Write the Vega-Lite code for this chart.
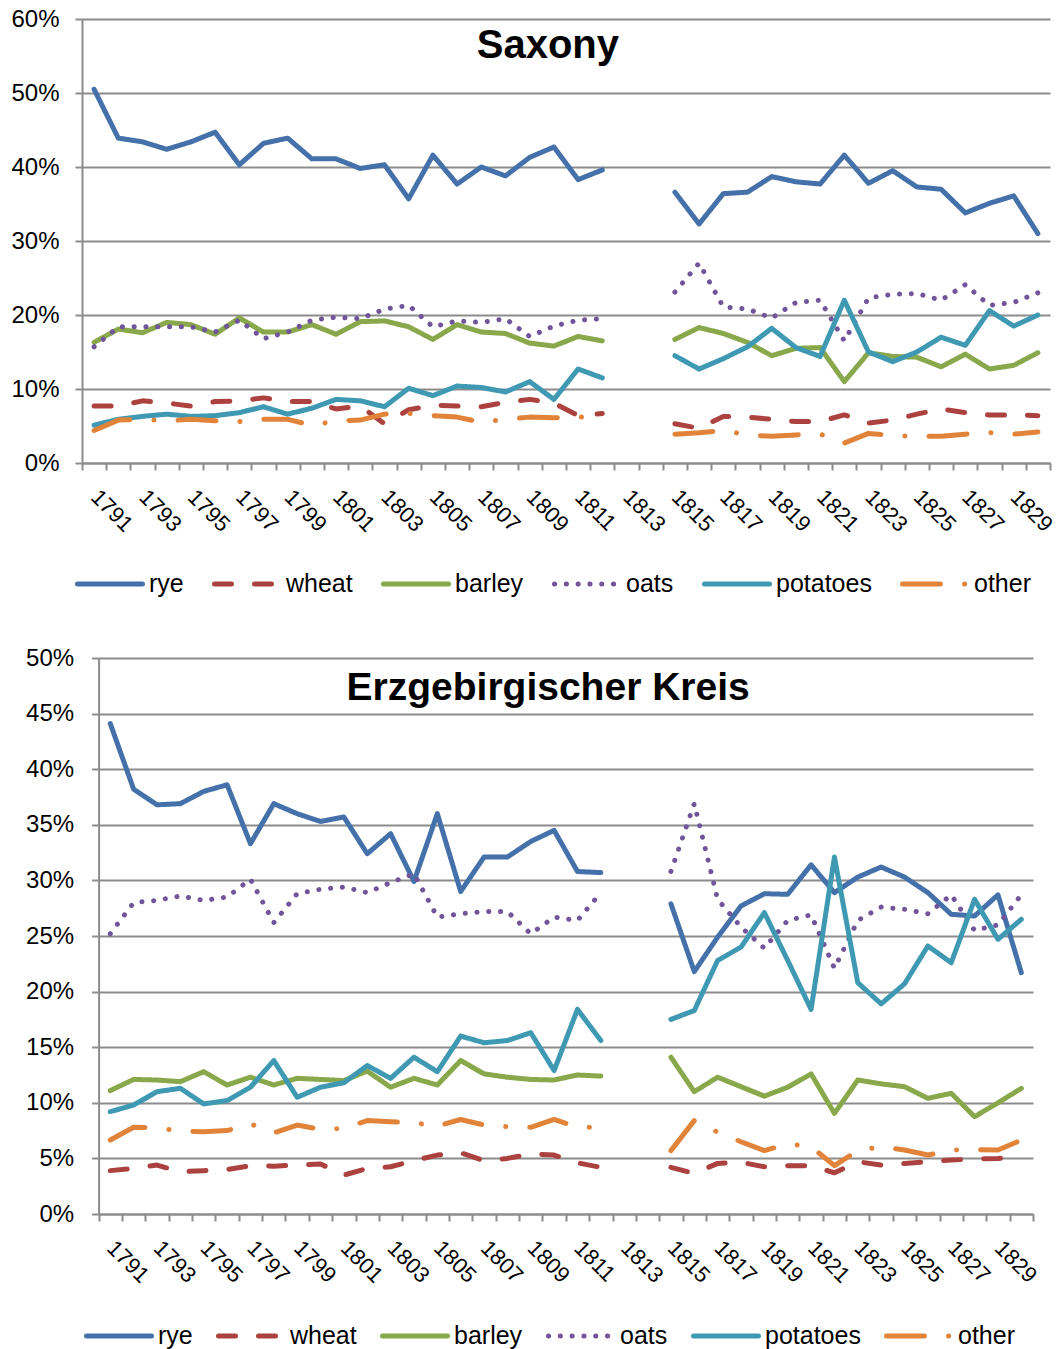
{
"$schema": "https://vega.github.io/schema/vega-lite/v6.json",
"padding": {"left": 10, "top": 7, "right": 5, "bottom": 5},
"spacing": 49,
"resolve": {"scale": {"color": "independent", "strokeDash": "independent"}, "legend": {"color": "independent", "strokeDash": "independent"}},
"config": {
  "font": "Liberation Sans",
  "view": {"stroke": null},
  "axis": {"domainColor": "#8c8c8c", "domainWidth": 2, "tickColor": "#8c8c8c", "tickWidth": 2, "gridColor": "#8c8c8c", "gridWidth": 2, "labelColor": "#000", "labelFont": "Liberation Sans"},
  "legend": {"labelFont": "Liberation Sans"}
},
"datasets": {
"saxony": [
{"year":1791,"crop":"rye","value":50.5},{"year":1792,"crop":"rye","value":43.9},{"year":1793,"crop":"rye","value":43.4},{"year":1794,"crop":"rye","value":42.4},{"year":1795,"crop":"rye","value":43.4},{"year":1796,"crop":"rye","value":44.7},{"year":1797,"crop":"rye","value":40.3},{"year":1798,"crop":"rye","value":43.2},{"year":1799,"crop":"rye","value":43.9},{"year":1800,"crop":"rye","value":41.1},{"year":1801,"crop":"rye","value":41.1},{"year":1802,"crop":"rye","value":39.8},{"year":1803,"crop":"rye","value":40.3},{"year":1804,"crop":"rye","value":35.7},{"year":1805,"crop":"rye","value":41.6},{"year":1806,"crop":"rye","value":37.7},{"year":1807,"crop":"rye","value":40.0},{"year":1808,"crop":"rye","value":38.8},{"year":1809,"crop":"rye","value":41.3},{"year":1810,"crop":"rye","value":42.7},{"year":1811,"crop":"rye","value":38.3},{"year":1812,"crop":"rye","value":39.6},{"year":1813,"crop":"rye","value":null},{"year":1814,"crop":"rye","value":null},{"year":1815,"crop":"rye","value":36.6},{"year":1816,"crop":"rye","value":32.3},{"year":1817,"crop":"rye","value":36.4},{"year":1818,"crop":"rye","value":36.6},{"year":1819,"crop":"rye","value":38.7},{"year":1820,"crop":"rye","value":38.0},{"year":1821,"crop":"rye","value":37.7},{"year":1822,"crop":"rye","value":41.6},{"year":1823,"crop":"rye","value":37.8},{"year":1824,"crop":"rye","value":39.5},{"year":1825,"crop":"rye","value":37.3},{"year":1826,"crop":"rye","value":37.0},{"year":1827,"crop":"rye","value":33.8},{"year":1828,"crop":"rye","value":35.1},{"year":1829,"crop":"rye","value":36.1},{"year":1830,"crop":"rye","value":31.0},
{"year":1791,"crop":"wheat","value":7.7},{"year":1792,"crop":"wheat","value":7.7},{"year":1793,"crop":"wheat","value":8.4},{"year":1794,"crop":"wheat","value":8.1},{"year":1795,"crop":"wheat","value":7.7},{"year":1796,"crop":"wheat","value":8.3},{"year":1797,"crop":"wheat","value":8.4},{"year":1798,"crop":"wheat","value":8.8},{"year":1799,"crop":"wheat","value":8.3},{"year":1800,"crop":"wheat","value":8.3},{"year":1801,"crop":"wheat","value":7.3},{"year":1802,"crop":"wheat","value":7.7},{"year":1803,"crop":"wheat","value":5.3},{"year":1804,"crop":"wheat","value":7.2},{"year":1805,"crop":"wheat","value":7.8},{"year":1806,"crop":"wheat","value":7.7},{"year":1807,"crop":"wheat","value":7.6},{"year":1808,"crop":"wheat","value":8.2},{"year":1809,"crop":"wheat","value":8.6},{"year":1810,"crop":"wheat","value":8.1},{"year":1811,"crop":"wheat","value":6.4},{"year":1812,"crop":"wheat","value":6.7},{"year":1813,"crop":"wheat","value":null},{"year":1814,"crop":"wheat","value":null},{"year":1815,"crop":"wheat","value":5.3},{"year":1816,"crop":"wheat","value":4.7},{"year":1817,"crop":"wheat","value":6.3},{"year":1818,"crop":"wheat","value":6.2},{"year":1819,"crop":"wheat","value":5.9},{"year":1820,"crop":"wheat","value":5.6},{"year":1821,"crop":"wheat","value":5.6},{"year":1822,"crop":"wheat","value":6.5},{"year":1823,"crop":"wheat","value":5.4},{"year":1824,"crop":"wheat","value":5.8},{"year":1825,"crop":"wheat","value":6.6},{"year":1826,"crop":"wheat","value":7.3},{"year":1827,"crop":"wheat","value":6.8},{"year":1828,"crop":"wheat","value":6.5},{"year":1829,"crop":"wheat","value":6.5},{"year":1830,"crop":"wheat","value":6.4},
{"year":1791,"crop":"barley","value":16.3},{"year":1792,"crop":"barley","value":18.1},{"year":1793,"crop":"barley","value":17.6},{"year":1794,"crop":"barley","value":19.0},{"year":1795,"crop":"barley","value":18.7},{"year":1796,"crop":"barley","value":17.4},{"year":1797,"crop":"barley","value":19.6},{"year":1798,"crop":"barley","value":17.7},{"year":1799,"crop":"barley","value":17.7},{"year":1800,"crop":"barley","value":18.7},{"year":1801,"crop":"barley","value":17.4},{"year":1802,"crop":"barley","value":19.1},{"year":1803,"crop":"barley","value":19.2},{"year":1804,"crop":"barley","value":18.4},{"year":1805,"crop":"barley","value":16.7},{"year":1806,"crop":"barley","value":18.7},{"year":1807,"crop":"barley","value":17.7},{"year":1808,"crop":"barley","value":17.5},{"year":1809,"crop":"barley","value":16.2},{"year":1810,"crop":"barley","value":15.8},{"year":1811,"crop":"barley","value":17.1},{"year":1812,"crop":"barley","value":16.5},{"year":1813,"crop":"barley","value":null},{"year":1814,"crop":"barley","value":null},{"year":1815,"crop":"barley","value":16.7},{"year":1816,"crop":"barley","value":18.3},{"year":1817,"crop":"barley","value":17.5},{"year":1818,"crop":"barley","value":16.3},{"year":1819,"crop":"barley","value":14.5},{"year":1820,"crop":"barley","value":15.5},{"year":1821,"crop":"barley","value":15.6},{"year":1822,"crop":"barley","value":11.0},{"year":1823,"crop":"barley","value":14.9},{"year":1824,"crop":"barley","value":14.4},{"year":1825,"crop":"barley","value":14.3},{"year":1826,"crop":"barley","value":13.0},{"year":1827,"crop":"barley","value":14.7},{"year":1828,"crop":"barley","value":12.7},{"year":1829,"crop":"barley","value":13.2},{"year":1830,"crop":"barley","value":14.9},
{"year":1791,"crop":"oats","value":15.7},{"year":1792,"crop":"oats","value":18.4},{"year":1793,"crop":"oats","value":18.4},{"year":1794,"crop":"oats","value":18.4},{"year":1795,"crop":"oats","value":18.4},{"year":1796,"crop":"oats","value":17.7},{"year":1797,"crop":"oats","value":19.3},{"year":1798,"crop":"oats","value":16.8},{"year":1799,"crop":"oats","value":17.7},{"year":1800,"crop":"oats","value":19.3},{"year":1801,"crop":"oats","value":19.7},{"year":1802,"crop":"oats","value":19.5},{"year":1803,"crop":"oats","value":20.8},{"year":1804,"crop":"oats","value":21.3},{"year":1805,"crop":"oats","value":18.4},{"year":1806,"crop":"oats","value":19.2},{"year":1807,"crop":"oats","value":19.0},{"year":1808,"crop":"oats","value":19.5},{"year":1809,"crop":"oats","value":17.1},{"year":1810,"crop":"oats","value":18.5},{"year":1811,"crop":"oats","value":19.3},{"year":1812,"crop":"oats","value":19.5},{"year":1813,"crop":"oats","value":null},{"year":1814,"crop":"oats","value":null},{"year":1815,"crop":"oats","value":23.1},{"year":1816,"crop":"oats","value":27.0},{"year":1817,"crop":"oats","value":21.1},{"year":1818,"crop":"oats","value":20.8},{"year":1819,"crop":"oats","value":19.6},{"year":1820,"crop":"oats","value":21.7},{"year":1821,"crop":"oats","value":22.0},{"year":1822,"crop":"oats","value":16.5},{"year":1823,"crop":"oats","value":22.3},{"year":1824,"crop":"oats","value":22.8},{"year":1825,"crop":"oats","value":22.9},{"year":1826,"crop":"oats","value":22.0},{"year":1827,"crop":"oats","value":24.1},{"year":1828,"crop":"oats","value":21.3},{"year":1829,"crop":"oats","value":21.7},{"year":1830,"crop":"oats","value":23.0},
{"year":1791,"crop":"potatoes","value":5.1},{"year":1792,"crop":"potatoes","value":5.9},{"year":1793,"crop":"potatoes","value":6.3},{"year":1794,"crop":"potatoes","value":6.6},{"year":1795,"crop":"potatoes","value":6.3},{"year":1796,"crop":"potatoes","value":6.4},{"year":1797,"crop":"potatoes","value":6.8},{"year":1798,"crop":"potatoes","value":7.6},{"year":1799,"crop":"potatoes","value":6.6},{"year":1800,"crop":"potatoes","value":7.4},{"year":1801,"crop":"potatoes","value":8.6},{"year":1802,"crop":"potatoes","value":8.4},{"year":1803,"crop":"potatoes","value":7.6},{"year":1804,"crop":"potatoes","value":10.1},{"year":1805,"crop":"potatoes","value":9.1},{"year":1806,"crop":"potatoes","value":10.4},{"year":1807,"crop":"potatoes","value":10.2},{"year":1808,"crop":"potatoes","value":9.6},{"year":1809,"crop":"potatoes","value":11.0},{"year":1810,"crop":"potatoes","value":8.6},{"year":1811,"crop":"potatoes","value":12.7},{"year":1812,"crop":"potatoes","value":11.5},{"year":1813,"crop":"potatoes","value":null},{"year":1814,"crop":"potatoes","value":null},{"year":1815,"crop":"potatoes","value":14.5},{"year":1816,"crop":"potatoes","value":12.7},{"year":1817,"crop":"potatoes","value":14.1},{"year":1818,"crop":"potatoes","value":15.7},{"year":1819,"crop":"potatoes","value":18.2},{"year":1820,"crop":"potatoes","value":15.6},{"year":1821,"crop":"potatoes","value":14.4},{"year":1822,"crop":"potatoes","value":22.0},{"year":1823,"crop":"potatoes","value":15.0},{"year":1824,"crop":"potatoes","value":13.7},{"year":1825,"crop":"potatoes","value":15.0},{"year":1826,"crop":"potatoes","value":17.0},{"year":1827,"crop":"potatoes","value":15.9},{"year":1828,"crop":"potatoes","value":20.6},{"year":1829,"crop":"potatoes","value":18.5},{"year":1830,"crop":"potatoes","value":20.0},
{"year":1791,"crop":"other","value":4.4},{"year":1792,"crop":"other","value":5.8},{"year":1793,"crop":"other","value":5.9},{"year":1794,"crop":"other","value":5.7},{"year":1795,"crop":"other","value":5.9},{"year":1796,"crop":"other","value":5.7},{"year":1797,"crop":"other","value":5.6},{"year":1798,"crop":"other","value":5.9},{"year":1799,"crop":"other","value":5.9},{"year":1800,"crop":"other","value":5.1},{"year":1801,"crop":"other","value":5.7},{"year":1802,"crop":"other","value":5.8},{"year":1803,"crop":"other","value":6.6},{"year":1804,"crop":"other","value":6.7},{"year":1805,"crop":"other","value":6.4},{"year":1806,"crop":"other","value":6.2},{"year":1807,"crop":"other","value":5.5},{"year":1808,"crop":"other","value":5.9},{"year":1809,"crop":"other","value":6.2},{"year":1810,"crop":"other","value":6.1},{"year":1811,"crop":"other","value":6.2},{"year":1812,"crop":"other","value":6.2},{"year":1813,"crop":"other","value":null},{"year":1814,"crop":"other","value":null},{"year":1815,"crop":"other","value":3.9},{"year":1816,"crop":"other","value":4.1},{"year":1817,"crop":"other","value":4.4},{"year":1818,"crop":"other","value":3.8},{"year":1819,"crop":"other","value":3.6},{"year":1820,"crop":"other","value":3.8},{"year":1821,"crop":"other","value":3.9},{"year":1822,"crop":"other","value":2.7},{"year":1823,"crop":"other","value":4.0},{"year":1824,"crop":"other","value":3.7},{"year":1825,"crop":"other","value":3.6},{"year":1826,"crop":"other","value":3.6},{"year":1827,"crop":"other","value":3.9},{"year":1828,"crop":"other","value":4.1},{"year":1829,"crop":"other","value":3.9},{"year":1830,"crop":"other","value":4.2}
],
"erz": [
{"year":1791,"crop":"rye","value":44.1},{"year":1792,"crop":"rye","value":38.2},{"year":1793,"crop":"rye","value":36.8},{"year":1794,"crop":"rye","value":36.9},{"year":1795,"crop":"rye","value":38.0},{"year":1796,"crop":"rye","value":38.6},{"year":1797,"crop":"rye","value":33.3},{"year":1798,"crop":"rye","value":36.9},{"year":1799,"crop":"rye","value":36.0},{"year":1800,"crop":"rye","value":35.3},{"year":1801,"crop":"rye","value":35.7},{"year":1802,"crop":"rye","value":32.4},{"year":1803,"crop":"rye","value":34.2},{"year":1804,"crop":"rye","value":29.9},{"year":1805,"crop":"rye","value":36.0},{"year":1806,"crop":"rye","value":29.0},{"year":1807,"crop":"rye","value":32.1},{"year":1808,"crop":"rye","value":32.1},{"year":1809,"crop":"rye","value":33.5},{"year":1810,"crop":"rye","value":34.5},{"year":1811,"crop":"rye","value":30.8},{"year":1812,"crop":"rye","value":30.7},{"year":1813,"crop":"rye","value":null},{"year":1814,"crop":"rye","value":null},{"year":1815,"crop":"rye","value":27.9},{"year":1816,"crop":"rye","value":21.8},{"year":1817,"crop":"rye","value":24.9},{"year":1818,"crop":"rye","value":27.7},{"year":1819,"crop":"rye","value":28.8},{"year":1820,"crop":"rye","value":28.75},{"year":1821,"crop":"rye","value":31.4},{"year":1822,"crop":"rye","value":28.9},{"year":1823,"crop":"rye","value":30.3},{"year":1824,"crop":"rye","value":31.2},{"year":1825,"crop":"rye","value":30.3},{"year":1826,"crop":"rye","value":28.9},{"year":1827,"crop":"rye","value":26.95},{"year":1828,"crop":"rye","value":26.8},{"year":1829,"crop":"rye","value":28.7},{"year":1830,"crop":"rye","value":21.7},
{"year":1791,"crop":"wheat","value":3.9},{"year":1792,"crop":"wheat","value":4.1},{"year":1793,"crop":"wheat","value":4.4},{"year":1794,"crop":"wheat","value":3.8},{"year":1795,"crop":"wheat","value":3.9},{"year":1796,"crop":"wheat","value":4.0},{"year":1797,"crop":"wheat","value":4.35},{"year":1798,"crop":"wheat","value":4.3},{"year":1799,"crop":"wheat","value":4.4},{"year":1800,"crop":"wheat","value":4.5},{"year":1801,"crop":"wheat","value":3.5},{"year":1802,"crop":"wheat","value":4.1},{"year":1803,"crop":"wheat","value":4.25},{"year":1804,"crop":"wheat","value":4.8},{"year":1805,"crop":"wheat","value":5.3},{"year":1806,"crop":"wheat","value":5.5},{"year":1807,"crop":"wheat","value":4.8},{"year":1808,"crop":"wheat","value":5.0},{"year":1809,"crop":"wheat","value":5.4},{"year":1810,"crop":"wheat","value":5.3},{"year":1811,"crop":"wheat","value":4.6},{"year":1812,"crop":"wheat","value":4.2},{"year":1813,"crop":"wheat","value":null},{"year":1814,"crop":"wheat","value":null},{"year":1815,"crop":"wheat","value":4.2},{"year":1816,"crop":"wheat","value":3.65},{"year":1817,"crop":"wheat","value":4.55},{"year":1818,"crop":"wheat","value":4.65},{"year":1819,"crop":"wheat","value":4.25},{"year":1820,"crop":"wheat","value":4.35},{"year":1821,"crop":"wheat","value":4.35},{"year":1822,"crop":"wheat","value":3.7},{"year":1823,"crop":"wheat","value":4.7},{"year":1824,"crop":"wheat","value":4.4},{"year":1825,"crop":"wheat","value":4.55},{"year":1826,"crop":"wheat","value":4.7},{"year":1827,"crop":"wheat","value":4.85},{"year":1828,"crop":"wheat","value":4.95},{"year":1829,"crop":"wheat","value":5.0},{"year":1830,"crop":"wheat","value":5.1},
{"year":1791,"crop":"barley","value":11.1},{"year":1792,"crop":"barley","value":12.1},{"year":1793,"crop":"barley","value":12.05},{"year":1794,"crop":"barley","value":11.9},{"year":1795,"crop":"barley","value":12.8},{"year":1796,"crop":"barley","value":11.6},{"year":1797,"crop":"barley","value":12.3},{"year":1798,"crop":"barley","value":11.6},{"year":1799,"crop":"barley","value":12.2},{"year":1800,"crop":"barley","value":12.1},{"year":1801,"crop":"barley","value":12.0},{"year":1802,"crop":"barley","value":12.85},{"year":1803,"crop":"barley","value":11.4},{"year":1804,"crop":"barley","value":12.2},{"year":1805,"crop":"barley","value":11.6},{"year":1806,"crop":"barley","value":13.8},{"year":1807,"crop":"barley","value":12.6},{"year":1808,"crop":"barley","value":12.3},{"year":1809,"crop":"barley","value":12.1},{"year":1810,"crop":"barley","value":12.05},{"year":1811,"crop":"barley","value":12.5},{"year":1812,"crop":"barley","value":12.4},{"year":1813,"crop":"barley","value":null},{"year":1814,"crop":"barley","value":null},{"year":1815,"crop":"barley","value":14.1},{"year":1816,"crop":"barley","value":11.0},{"year":1817,"crop":"barley","value":12.3},{"year":1818,"crop":"barley","value":11.45},{"year":1819,"crop":"barley","value":10.6},{"year":1820,"crop":"barley","value":11.4},{"year":1821,"crop":"barley","value":12.6},{"year":1822,"crop":"barley","value":9.05},{"year":1823,"crop":"barley","value":12.05},{"year":1824,"crop":"barley","value":11.7},{"year":1825,"crop":"barley","value":11.45},{"year":1826,"crop":"barley","value":10.4},{"year":1827,"crop":"barley","value":10.85},{"year":1828,"crop":"barley","value":8.75},{"year":1829,"crop":"barley","value":10.0},{"year":1830,"crop":"barley","value":11.3},
{"year":1791,"crop":"oats","value":25.2},{"year":1792,"crop":"oats","value":28.0},{"year":1793,"crop":"oats","value":28.2},{"year":1794,"crop":"oats","value":28.6},{"year":1795,"crop":"oats","value":28.2},{"year":1796,"crop":"oats","value":28.5},{"year":1797,"crop":"oats","value":30.1},{"year":1798,"crop":"oats","value":26.2},{"year":1799,"crop":"oats","value":28.8},{"year":1800,"crop":"oats","value":29.2},{"year":1801,"crop":"oats","value":29.4},{"year":1802,"crop":"oats","value":28.9},{"year":1803,"crop":"oats","value":29.8},{"year":1804,"crop":"oats","value":30.6},{"year":1805,"crop":"oats","value":26.7},{"year":1806,"crop":"oats","value":27.0},{"year":1807,"crop":"oats","value":27.2},{"year":1808,"crop":"oats","value":27.2},{"year":1809,"crop":"oats","value":25.2},{"year":1810,"crop":"oats","value":26.7},{"year":1811,"crop":"oats","value":26.4},{"year":1812,"crop":"oats","value":28.9},{"year":1813,"crop":"oats","value":null},{"year":1814,"crop":"oats","value":null},{"year":1815,"crop":"oats","value":30.8},{"year":1816,"crop":"oats","value":36.9},{"year":1817,"crop":"oats","value":28.3},{"year":1818,"crop":"oats","value":25.8},{"year":1819,"crop":"oats","value":23.9},{"year":1820,"crop":"oats","value":26.4},{"year":1821,"crop":"oats","value":26.9},{"year":1822,"crop":"oats","value":22.1},{"year":1823,"crop":"oats","value":26.4},{"year":1824,"crop":"oats","value":27.6},{"year":1825,"crop":"oats","value":27.4},{"year":1826,"crop":"oats","value":27.0},{"year":1827,"crop":"oats","value":28.7},{"year":1828,"crop":"oats","value":25.5},{"year":1829,"crop":"oats","value":26.0},{"year":1830,"crop":"oats","value":28.7},
{"year":1791,"crop":"potatoes","value":9.2},{"year":1792,"crop":"potatoes","value":9.8},{"year":1793,"crop":"potatoes","value":11.0},{"year":1794,"crop":"potatoes","value":11.3},{"year":1795,"crop":"potatoes","value":9.9},{"year":1796,"crop":"potatoes","value":10.2},{"year":1797,"crop":"potatoes","value":11.4},{"year":1798,"crop":"potatoes","value":13.8},{"year":1799,"crop":"potatoes","value":10.5},{"year":1800,"crop":"potatoes","value":11.4},{"year":1801,"crop":"potatoes","value":11.8},{"year":1802,"crop":"potatoes","value":13.35},{"year":1803,"crop":"potatoes","value":12.2},{"year":1804,"crop":"potatoes","value":14.1},{"year":1805,"crop":"potatoes","value":12.8},{"year":1806,"crop":"potatoes","value":16.0},{"year":1807,"crop":"potatoes","value":15.4},{"year":1808,"crop":"potatoes","value":15.6},{"year":1809,"crop":"potatoes","value":16.3},{"year":1810,"crop":"potatoes","value":12.9},{"year":1811,"crop":"potatoes","value":18.4},{"year":1812,"crop":"potatoes","value":15.6},{"year":1813,"crop":"potatoes","value":null},{"year":1814,"crop":"potatoes","value":null},{"year":1815,"crop":"potatoes","value":17.5},{"year":1816,"crop":"potatoes","value":18.3},{"year":1817,"crop":"potatoes","value":22.8},{"year":1818,"crop":"potatoes","value":24.0},{"year":1819,"crop":"potatoes","value":27.1},{"year":1820,"crop":"potatoes","value":22.8},{"year":1821,"crop":"potatoes","value":18.4},{"year":1822,"crop":"potatoes","value":32.1},{"year":1823,"crop":"potatoes","value":20.8},{"year":1824,"crop":"potatoes","value":18.9},{"year":1825,"crop":"potatoes","value":20.7},{"year":1826,"crop":"potatoes","value":24.1},{"year":1827,"crop":"potatoes","value":22.6},{"year":1828,"crop":"potatoes","value":28.3},{"year":1829,"crop":"potatoes","value":24.7},{"year":1830,"crop":"potatoes","value":26.5},
{"year":1791,"crop":"other","value":6.65},{"year":1792,"crop":"other","value":7.8},{"year":1793,"crop":"other","value":7.75},{"year":1794,"crop":"other","value":7.45},{"year":1795,"crop":"other","value":7.4},{"year":1796,"crop":"other","value":7.5},{"year":1797,"crop":"other","value":8.1},{"year":1798,"crop":"other","value":7.3},{"year":1799,"crop":"other","value":8.0},{"year":1800,"crop":"other","value":7.6},{"year":1801,"crop":"other","value":7.7},{"year":1802,"crop":"other","value":8.4},{"year":1803,"crop":"other","value":8.3},{"year":1804,"crop":"other","value":8.2},{"year":1805,"crop":"other","value":7.9},{"year":1806,"crop":"other","value":8.5},{"year":1807,"crop":"other","value":8.0},{"year":1808,"crop":"other","value":7.85},{"year":1809,"crop":"other","value":7.8},{"year":1810,"crop":"other","value":8.5},{"year":1811,"crop":"other","value":7.8},{"year":1812,"crop":"other","value":7.8},{"year":1813,"crop":"other","value":null},{"year":1814,"crop":"other","value":null},{"year":1815,"crop":"other","value":5.7},{"year":1816,"crop":"other","value":8.4},{"year":1817,"crop":"other","value":7.35},{"year":1818,"crop":"other","value":6.5},{"year":1819,"crop":"other","value":5.7},{"year":1820,"crop":"other","value":6.3},{"year":1821,"crop":"other","value":6.05},{"year":1822,"crop":"other","value":4.35},{"year":1823,"crop":"other","value":5.7},{"year":1824,"crop":"other","value":6.05},{"year":1825,"crop":"other","value":5.75},{"year":1826,"crop":"other","value":5.3},{"year":1827,"crop":"other","value":5.75},{"year":1828,"crop":"other","value":5.8},{"year":1829,"crop":"other","value":5.75},{"year":1830,"crop":"other","value":6.65}
]
},
"vconcat": [
{
  "width": 968, "height": 444,
  "layer": [
  {
  "data": {"name": "saxony"},
  "mark": {"type": "line", "strokeWidth": 5, "strokeCap": "round", "strokeJoin": "round", "invalid": "break-paths-show-domains"},
  "encoding": {
    "x": {"field": "year", "type": "ordinal", "bandPosition": 0.5,
      "scale": {"type": "band", "paddingInner": 0, "paddingOuter": 0, "domain": [1791,1792,1793,1794,1795,1796,1797,1798,1799,1800,1801,1802,1803,1804,1805,1806,1807,1808,1809,1810,1811,1812,1813,1814,1815,1816,1817,1818,1819,1820,1821,1822,1823,1824,1825,1826,1827,1828,1829,1830]},
      "axis": {"title": null, "tickBand": "extent", "grid": false, "labelAngle": 45, "labelAlign": "left", "labelBaseline": "middle", "labelFontSize": 22, "labelPadding": 23, "tickSize": 7, "labelOverlap": false, "labelExpr": "datum.value % 2 == 1 ? datum.label : ''"}},
    "y": {"field": "value", "type": "quantitative", "scale": {"domain": [0, 60], "nice": false},
      "axis": {"title": null, "values": [0,10,20,30,40,50,60], "labelExpr": "datum.value + '%'", "labelFontSize": 24, "labelPadding": 16, "tickSize": 7, "grid": true, "minExtent": 71}},
    "color": {"field": "crop", "type": "nominal",
      "scale": {"domain": ["rye","wheat","barley","oats","potatoes","other"], "range": ["#4571AA","#AC423F","#88A84B","#71559B","#3F99B3","#E2833A"]},
      "legend": {"title": null, "orient": "none", "legendX": -7, "legendY": 530, "direction": "horizontal", "columns": 6, "gridAlign": "none", "symbolType": "stroke", "symbolSize": 4225, "symbolStrokeWidth": 5, "labelFontSize": 25, "labelOffset": 4, "columnPadding": 20, "labelColor": "#000", "encode": {"symbols": {"update": {"strokeCap": {"value": "round"}}}}}},
    "strokeDash": {"field": "crop", "type": "nominal",
      "scale": {"domain": ["rye","wheat","barley","oats","potatoes","other"], "range": [[1,0],[17,23],[1,0],[0.1,11.7],[1,0],[38,24,0.1,24]]},
      "legend": {"title": null, "orient": "none", "legendX": -7, "legendY": 530, "direction": "horizontal", "columns": 6, "gridAlign": "none", "symbolType": "stroke", "symbolSize": 4225, "symbolStrokeWidth": 5, "labelFontSize": 25, "labelOffset": 4, "columnPadding": 20, "labelColor": "#000", "encode": {"symbols": {"update": {"strokeCap": {"value": "round"}}}}}}
  }
  },
  {
  "data": {"values": [{"label": "Saxony"}]},
  "mark": {"type": "text", "fontSize": 40, "fontWeight": "bold", "color": "#000", "align": "center", "baseline": "alphabetic", "dx": -6},
  "encoding": {
    "x": {"datum": 1810, "type": "ordinal", "bandPosition": 0.5},
    "y": {"datum": 54.7, "type": "quantitative"},
    "text": {"field": "label"}
  }
  }
  ]
},
{
  "width": 951, "height": 556,
  "layer": [
  {
  "data": {"name": "erz"},
  "mark": {"type": "line", "strokeWidth": 5, "strokeCap": "round", "strokeJoin": "round", "invalid": "break-paths-show-domains"},
  "encoding": {
    "x": {"field": "year", "type": "ordinal", "bandPosition": 0.5,
      "scale": {"type": "band", "paddingInner": 0, "paddingOuter": 0, "range": [16.6, 951], "domain": [1791,1792,1793,1794,1795,1796,1797,1798,1799,1800,1801,1802,1803,1804,1805,1806,1807,1808,1809,1810,1811,1812,1813,1814,1815,1816,1817,1818,1819,1820,1821,1822,1823,1824,1825,1826,1827,1828,1829,1830]},
      "axis": {"title": null, "tickBand": "extent", "grid": false, "labelAngle": 45, "labelAlign": "left", "labelBaseline": "middle", "labelFontSize": 22, "labelPadding": 23, "tickSize": 7, "labelOverlap": false, "labelExpr": "datum.value % 2 == 1 ? datum.label : ''"}},
    "y": {"field": "value", "type": "quantitative", "scale": {"domain": [0, 50], "nice": false},
      "axis": {"title": null, "values": [0,5,10,15,20,25,30,35,40,45,50], "labelExpr": "datum.value + '%'", "labelFontSize": 24, "labelPadding": 18, "tickSize": 7, "grid": true, "offset": -16.6}},
    "color": {"field": "crop", "type": "nominal",
      "scale": {"domain": ["rye","wheat","barley","oats","potatoes","other"], "range": ["#4571AA","#AC423F","#88A84B","#71559B","#3F99B3","#E2833A"]},
      "legend": {"title": null, "orient": "none", "legendX": 2, "legendY": 643, "direction": "horizontal", "columns": 6, "gridAlign": "none", "symbolType": "stroke", "symbolSize": 4225, "symbolStrokeWidth": 5, "labelFontSize": 25, "labelOffset": 4, "columnPadding": 15, "labelColor": "#000", "encode": {"symbols": {"update": {"strokeCap": {"value": "round"}}}}}},
    "strokeDash": {"field": "crop", "type": "nominal",
      "scale": {"domain": ["rye","wheat","barley","oats","potatoes","other"], "range": [[1,0],[17,23],[1,0],[0.1,11.7],[1,0],[38,24,0.1,24]]},
      "legend": {"title": null, "orient": "none", "legendX": 2, "legendY": 643, "direction": "horizontal", "columns": 6, "gridAlign": "none", "symbolType": "stroke", "symbolSize": 4225, "symbolStrokeWidth": 5, "labelFontSize": 25, "labelOffset": 4, "columnPadding": 15, "labelColor": "#000", "encode": {"symbols": {"update": {"strokeCap": {"value": "round"}}}}}}
  }
  },
  {
  "data": {"values": [{"label": "Erzgebirgischer Kreis"}]},
  "mark": {"type": "text", "fontSize": 39, "fontWeight": "bold", "color": "#000", "align": "center", "baseline": "alphabetic", "dx": -6},
  "encoding": {
    "x": {"datum": 1810, "type": "ordinal", "bandPosition": 0.5},
    "y": {"datum": 46.2, "type": "quantitative"},
    "text": {"field": "label"}
  }
  }
  ]
}
]
}
